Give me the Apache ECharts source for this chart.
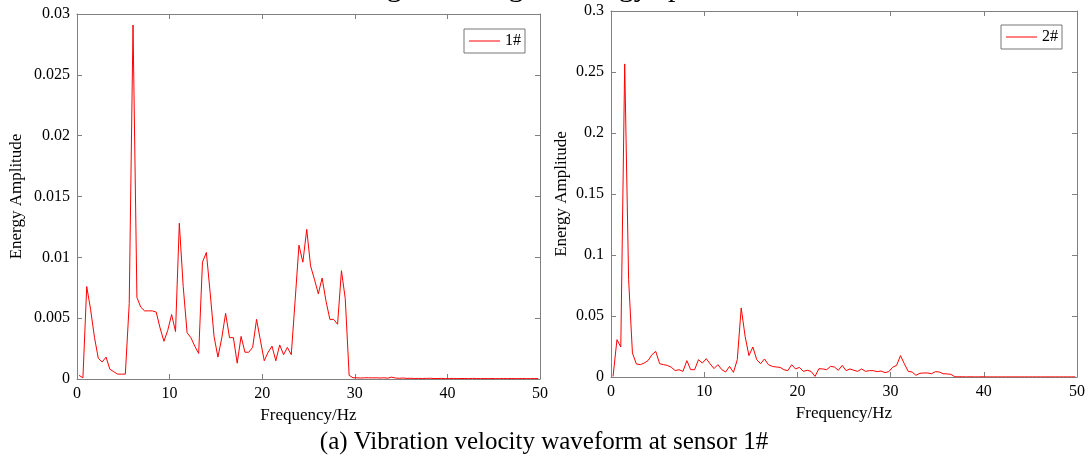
<!DOCTYPE html>
<html>
<head>
<meta charset="utf-8">
<script src="https://cdn.jsdelivr.net/npm/echarts@6/dist/echarts.min.js"></script>
<style>
html,body{margin:0;padding:0;background:#fff;}
#chart{width:1088px;height:459px;}
</style>
</head>
<body>
<div id="chart"></div>
<script>
// Frequency grid (Hz)
var freq = [0.22,0.64,1.05,1.47,1.89,2.30,2.72,3.14,3.55,3.97,4.39,4.80,5.22,5.64,6.05,6.47,6.89,7.30,7.72,8.14,
8.55,8.97,9.39,9.80,10.22,10.64,11.05,11.47,11.89,12.30,12.72,13.14,13.55,13.97,14.39,14.80,15.22,15.64,16.05,16.47,
16.89,17.30,17.72,18.14,18.55,18.97,19.39,19.80,20.22,20.64,21.06,21.47,21.89,22.31,22.72,23.14,23.56,23.97,24.39,24.81,
25.22,25.64,26.06,26.47,26.89,27.31,27.72,28.14,28.56,28.97,29.39,29.81,30.22,30.64,31.06,31.47,31.89,32.31,32.72,33.14,
33.56,33.97,34.39,34.81,35.22,35.64,36.06,36.47,36.89,37.31,37.72,38.14,38.56,38.97,39.39,39.81,40.22,40.64,41.06,41.47,
41.89,42.31,42.72,43.14,43.56,43.97,44.39,44.81,45.22,45.64,46.06,46.47,46.89,47.31,47.72,48.14,48.56,48.97,49.39,49.81];

// Sensor 1# energy amplitude
var amp1 = [0.0003,0.0001,0.0076,0.0057,0.0034,0.0017,0.0014,0.0018,0.0008,0.0006,
0.0004,0.0004,0.0004,0.0062,0.0291,0.0067,0.0059,0.0056,0.0056,0.0056,
0.0055,0.0042,0.0031,0.0040,0.0053,0.0039,0.0128,0.0076,0.0038,0.0034,
0.0027,0.0021,0.0096,0.0104,0.0070,0.0035,0.0018,0.0034,0.0054,0.0034,
0.0034,0.0013,0.0035,0.0022,0.0022,0.0026,0.0049,0.0032,0.0015,0.0022,
0.0027,0.0015,0.0028,0.0020,0.0026,0.0020,0.0065,0.0110,0.0096,0.0123,
0.0093,0.0082,0.0070,0.0083,0.0064,0.0049,0.0049,0.0045,0.0089,0.0066,
0.0003,0.0001,
0.0001,0.00008,0.0001,0.0001,0.00009,0.0001,0.00008,0.0001,0.00007,0.00015,
0.00008,0.00006,0.00008,0.00005,0.00006,0.00004,0.00005,0.00004,0.00005,0.00006,
0.00004,0.00004,0.00005,0.00003,0.00004,0.00005,0.00003,0.00004,0.00004,0.00003,
0.00005,0.00004,0.00003,0.00004,0.00003,0.00004,0.00003,0.00003,0.00004,0.00003,
0.00004,0.00003,0.00003,0.00004,0.00003,0.00003,0.00004,0.00003];

// Sensor 2# energy amplitude
var amp2 = [0.0005,0.0306,0.0246,0.2566,0.08,0.0197,0.0107,0.0101,0.0114,0.0134,
0.0183,0.021,0.0109,0.0101,0.0095,0.008,0.0052,0.006,0.0046,0.0134,
0.006,0.006,0.0142,0.0114,0.015,0.0107,0.0069,0.0101,0.006,0.0041,
0.0087,0.0038,0.0142,0.0566,0.0333,0.0175,0.0246,0.0142,0.0109,0.0148,
0.0101,0.0087,0.0082,0.0079,0.006,0.0052,0.0101,0.0066,0.0079,0.0046,
0.0055,0.0046,0.0005,0.0068,0.0066,0.006,0.0087,0.0082,0.0055,0.0095,
0.0052,0.0066,0.0055,0.0046,0.0066,0.0046,0.0052,0.0052,0.0044,0.0049,
0.0036,0.0044,0.008,0.0095,0.0175,0.0109,0.0046,0.0041,0.0014,0.003,
0.0033,0.0033,0.0027,0.0044,0.0041,0.0027,0.0025,0.0022,0.0002,
0.0002,0.0002,0.0001,0.0002,0.0001,0.0001,0.0002,0.0001,0.0001,0.0001,
0.0001,0.0001,0.0001,0.0001,0.0001,0.0001,0.0001,0.0001,0.0001,0.0001,
0.0001,0.0001,0.0001,0.0001,0.0001,0.0001,0.0001,0.0001,0.0001,0.0001,0.0001];

var seriesNames = ['1#','2#'];
var xTicks = {min:0, max:50, interval:10};
var yTicks1 = {min:0, max:0.03, interval:0.005};
var yTicks2 = {min:0, max:0.3, interval:0.05};
var titleText = 'Histogram of signal energy spectrum';
var captionText = '(a) Vibration velocity waveform at sensor 1#';
var xName = 'Frequency/Hz';
var yName = 'Energy Amplitude';

var FONT = "'Liberation Serif','Times New Roman',serif";
var AX = '#808080';
var RED = '#ff0000';

function pairs(f, a){ return f.map(function(v,i){ return [v, a[i]]; }); }

function xAxisDef(grid, top){
  return {
    type:'value', gridIndex:grid, position: top?'top':'bottom',
    min:xTicks.min, max:xTicks.max, interval:xTicks.interval,
    name: top?'':xName, nameLocation:'middle', nameGap:23,
    nameTextStyle:{fontFamily:FONT, fontSize:17, color:'#000'},
    axisLine:{show:true, onZero:false, lineStyle:{color:AX, width:1}},
    axisTick:{show:true, inside:true, length:5, lineStyle:{color:AX}},
    axisLabel:{show:!top, margin:7, fontFamily:FONT, fontSize:16, color:'#000'},
    splitLine:{show:false}
  };
}
function yAxisDef(grid, right, t, gap){
  return {
    type:'value', gridIndex:grid, position: right?'right':'left',
    min:t.min, max:t.max, interval:t.interval,
    name: right?'':yName, nameLocation:'middle', nameGap:gap,
    nameTextStyle:{fontFamily:FONT, fontSize:17, color:'#000'},
    axisLine:{show:true, onZero:false, lineStyle:{color:AX, width:1}},
    axisTick:{show:true, inside:true, length:5, lineStyle:{color:AX}},
    axisLabel:{show:!right, margin:7, fontFamily:FONT, fontSize:16, color:'#000'},
    splitLine:{show:false}
  };
}
function legendDef(name, left, top){
  return {
    data:[name], left:left, top:top, orient:'horizontal',
    icon:'rect', itemWidth:31, itemHeight:1, itemGap:4,
    borderColor:'#777', borderWidth:1, padding:[4,4,4,5],
    backgroundColor:'#fff',
    textStyle:{fontFamily:FONT, fontSize:16, color:'#000', padding:[0,0,0,0]}
  };
}

var chart = echarts.init(document.getElementById('chart'), null, {renderer:'canvas'});
chart.setOption({
  animation:false,
  backgroundColor:'#fff',
  title:[
    {text:titleText, left:'center', top:-32, textStyle:{fontFamily:FONT, fontSize:30, fontWeight:'normal', color:'#000'}},
    {text:captionText, left:'center', top:425, textStyle:{fontFamily:FONT, fontSize:25, fontWeight:'normal', color:'#000'}}
  ],
  legend:[legendDef(seriesNames[0], 464, 29), legendDef(seriesNames[1], 1001, 25)],
  grid:[
    {left:77, top:14, width:463, height:365},
    {left:611, top:11, width:466, height:366}
  ],
  xAxis:[xAxisDef(0,false), xAxisDef(0,true), xAxisDef(1,false), xAxisDef(1,true)],
  yAxis:[yAxisDef(0,false,yTicks1,52), yAxisDef(0,true,yTicks1,0), yAxisDef(1,false,yTicks2,41), yAxisDef(1,true,yTicks2,0)],
  series:[
    {name:seriesNames[0], type:'line', xAxisIndex:0, yAxisIndex:0, data:pairs(freq, amp1),
     showSymbol:false, symbol:'none', lineStyle:{color:RED, width:1}, itemStyle:{color:RED}},
    {name:seriesNames[1], type:'line', xAxisIndex:2, yAxisIndex:2, data:pairs(freq, amp2),
     showSymbol:false, symbol:'none', lineStyle:{color:RED, width:1}, itemStyle:{color:RED}}
  ]
});
</script>
</body>
</html>
